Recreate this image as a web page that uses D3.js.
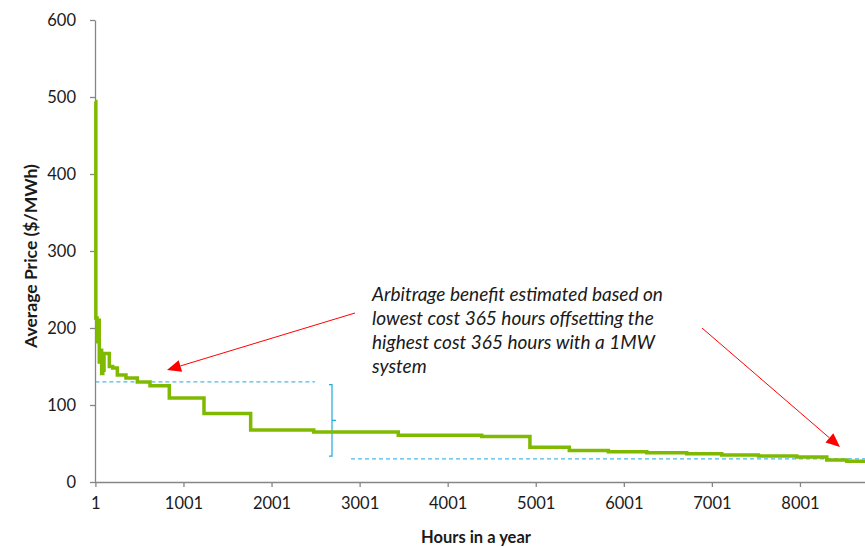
<!DOCTYPE html>
<html><head><meta charset="utf-8">
<script src="https://cdn.jsdelivr.net/npm/d3@7/dist/d3.min.js"></script>
<style>
html,body{margin:0;padding:0;background:#fff;}
svg{display:block;}
text{font-family:Lato,"Open Sans",sans-serif;}
</style></head>
<body>
<svg id="c" width="865" height="547"></svg>
<script>
// ---- data (load duration curve, step starts) ----
const hours = [1, 6, 20, 30, 45, 58, 72, 85, 99, 159, 197, 250, 348, 477, 621, 840, 1234, 1764, 2480, 3440, 4387, 4935, 5382, 5825, 6261, 6715, 7113, 7529, 7965, 8306, 8533, 8760];
const price = [494, 213, 182, 210, 156, 171, 141, 145, 167, 150, 148, 139, 135, 130, 125, 109, 89, 67.5, 65, 60.6, 59, 45, 41, 39.4, 38, 36.8, 35, 33.8, 32.5, 28.6, 26.9, 26];
const xTicks = [1, 1001, 2001, 3001, 4001, 5001, 6001, 7001, 8001];
const yTicks = [0, 100, 200, 300, 400, 500, 600];
const highLevel = 130, lowLevel = 30;
const annotation = ["Arbitrage benefit estimated based on", "lowest cost 365 hours offsetting the", "highest cost 365 hours with a 1MW", "system"];
const xTitle = "Hours in a year", yTitle = "Average Price ($/MWh)";

const svg = d3.select("#c");
const x = d3.scaleLinear().domain([1, 8760]).range([95.4, 866.8]);
const y = d3.scaleLinear().domain([0, 600]).range([482, 20]);
const axisCol = "#868686", txtCol = "#1a1a1a";

function fit(sel, target) {
  const w = sel.node().getComputedTextLength();
  const fs = parseFloat(sel.style("font-size"));
  return fs * target / w;
}

// axes
const gx = svg.append("g").attr("transform", "translate(0,482)")
  .call(d3.axisBottom(x).tickValues(xTicks).tickSize(5).tickSizeOuter(0).tickPadding(10).tickFormat(d3.format("d")));
const gy = svg.append("g").attr("transform", "translate(95,0)")
  .call(d3.axisLeft(y).tickValues(yTicks).tickSize(5).tickSizeOuter(0).tickPadding(14));
[gx, gy].forEach(g => {
  g.attr("font-size", null).attr("font-family", null);
  g.select(".domain").attr("stroke", axisCol).attr("stroke-width", 1.3);
  g.selectAll(".tick line").attr("stroke", axisCol).attr("stroke-width", 1.3);
  g.selectAll(".tick text").attr("fill", txtCol).attr("font-size", 16.5).attr("font-family", "Lato, sans-serif");
});
gx.select(".domain").attr("d", `M95,0.5H865`);
gy.selectAll(".tick text").attr("dy", "0.35em");

// titles
const tx = svg.append("text").attr("x", 476).attr("y", 543).attr("text-anchor", "middle")
  .attr("fill", txtCol).style("font-size", "15px").style("font-weight", "bold").text(xTitle);
tx.style("font-size", fit(tx, 110) + "px");
const ty = svg.append("text").attr("transform", "translate(37,256) rotate(-90)").attr("text-anchor", "middle")
  .attr("fill", txtCol).style("font-size", "15px").style("font-weight", "bold").text(yTitle);
ty.style("font-size", fit(ty, 184) + "px");

// dashed levels
const blue = "#1fa9e1";
svg.append("line").attr("x1", x(1)).attr("x2", 315).attr("y1", y(highLevel)).attr("y2", y(highLevel))
  .attr("stroke", blue).attr("stroke-width", 1).attr("stroke-dasharray", "4,3");
svg.append("line").attr("x1", 351).attr("x2", 865).attr("y1", y(lowLevel)).attr("y2", y(lowLevel))
  .attr("stroke", blue).attr("stroke-width", 1).attr("stroke-dasharray", "4,3");

// bracket
const bx = 332, bt = y(126.5), bb = y(33.5), bm = y(80);
svg.append("path").attr("d", `M${bx-3},${bt}H${bx}V${bb}H${bx-3}M${bx},${bm}H${bx+4}`)
  .attr("fill", "none").attr("stroke", blue).attr("stroke-width", 1.2);

// line
const data = hours.map((h, i) => [h, price[i]]);
svg.append("path").datum(data)
  .attr("d", d3.line().x(d => x(d[0])).y(d => y(d[1])).curve(d3.curveStepAfter))
  .attr("fill", "none").attr("stroke", "#7fba00").attr("stroke-width", 3.5).attr("stroke-linejoin", "miter");

// arrows
function arrow(x1, y1, x2, y2) {
  const ang = Math.atan2(y2 - y1, x2 - x1), L = 14, W = 6;
  const bx2 = x2 - L * Math.cos(ang), by2 = y2 - L * Math.sin(ang);
  svg.append("line").attr("x1", x1).attr("y1", y1).attr("x2", bx2).attr("y2", by2)
    .attr("stroke", "#ff0000").attr("stroke-width", 1);
  const px = -Math.sin(ang) * W, py = Math.cos(ang) * W;
  svg.append("path").attr("d", `M${x2},${y2}L${bx2 + px},${by2 + py}L${bx2 - px},${by2 - py}Z`).attr("fill", "#ff0000");
}
arrow(355, 313, 167, 370);
arrow(702, 328, 840, 447);

// annotation text
const tg = svg.append("g");
const lines = tg.selectAll("text").data(annotation).join("text")
  .attr("x", 372).attr("y", (d, i) => 301 + i * 24)
  .attr("fill", "#1a1a1a").style("font-style", "italic").style("font-size", "16px").text(d => d);
lines.style("font-size", fit(d3.select(lines.node()), 291) + "px");
</script>
</body></html>
